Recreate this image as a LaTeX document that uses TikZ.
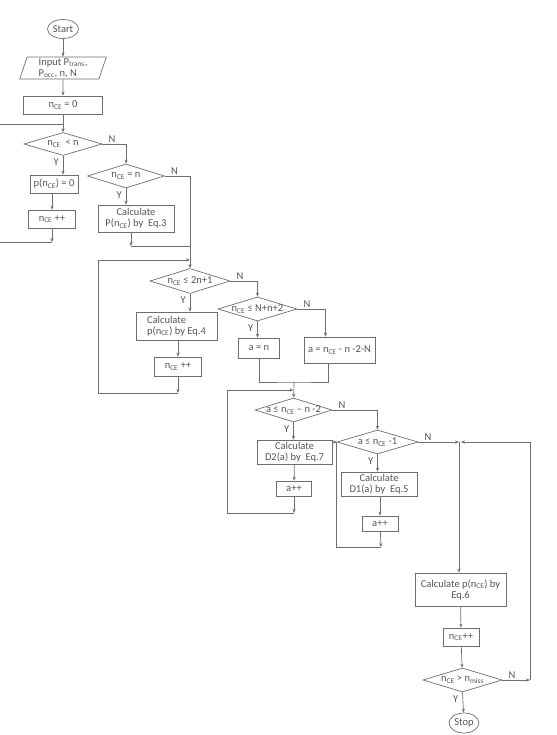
\documentclass[tikz,border=0pt]{standalone}
\usepackage{fontspec}
\setmainfont{Carlito}
\usetikzlibrary{shapes.geometric,arrows.meta}
\definecolor{ln}{RGB}{110,110,110}
\definecolor{tx}{RGB}{85,85,85}
\newcommand{\nce}{n\textsubscript{CE}}
\newcommand{\tight}[1]{\makebox[0pt]{#1}}

\begin{document}
\begin{tikzpicture}[x=1pt,y=-1pt,color=ln,line width=0.7pt,
 >={Stealth[length=4pt,width=3.2pt]},
 every node/.style={text=tx,font=\fontsize{10.5}{11}\selectfont},
 box/.style={draw=ln,rectangle,inner sep=1pt},
 dec/.style={draw=ln,diamond,inner sep=0pt},
 term/.style={draw=ln,ellipse,inner sep=0pt},
 io/.style={draw=ln,trapezium,trapezium left angle=76,trapezium right angle=104,
   trapezium stretches=true,inner sep=0.5pt},
 yes/.style={at start,anchor=north east,inner sep=1pt,xshift=-3pt,yshift=-2pt},
 no/.style={at start,anchor=south west,inner sep=1pt,xshift=5pt}]
 \path[use as bounding box] (0,0) rectangle (556,735);
 \clip (0,0) rectangle (556,735);

 % first column
 \node[term,minimum width=31,minimum height=19] (start) at (63,29) {Start};
 \node[io,minimum width=87,minimum height=22,align=left] (in) at (63,68)
   {Input P\textsubscript{trans},\\P\textsubscript{occ}, n, N};
 \node[box,minimum width=79,minimum height=18] (z0) at (63,105) {\nce{} = 0};
 \node[dec,minimum width=78,minimum height=23] (d1) at (63,144) {\tight{\nce{}\ \ < n}};
 \node[box,minimum width=48,minimum height=18] (p0) at (54,184) {p(\nce) = 0};
 \node[box,minimum width=47,minimum height=18] (i1) at (52,219) {\nce{} ++};
 \node[dec,minimum width=77,minimum height=24] (d2) at (126,176) {\tight{\nce{} = n}};
 \node[box,minimum width=76,minimum height=27,align=center] (c3) at (136,218.5)
   {Calculate\\P(\nce) by\ \ Eq.3};

 % second block
 \node[dec,minimum width=80,minimum height=25] (d3) at (190,281) {\tight{\nce{} ≤ 2n+1}};
 \node[box,minimum width=81,minimum height=28,align=left] (c4) at (176.5,326)
   {Calculate\\p(\nce) by Eq.4};
 \node[box,minimum width=47,minimum height=19] (i2) at (178,366.5) {\nce{} ++};
 \node[dec,minimum width=79,minimum height=24] (d4) at (257.5,309) {\tight{\nce{} ≤ N+n+2}};
 \node[box,minimum width=41,minimum height=20] (a1) at (259,348) {a = n};
 \node[box,minimum width=71,minimum height=26] (a2) at (339.5,350) {a = \nce{} - n -2-N};

 % third block
 \node[dec,minimum width=77,minimum height=24] (d5) at (293.5,410) {\tight{a ≤ \nce{} – n -2}};
 \node[box,minimum width=75,minimum height=24,align=center] (c7) at (294.5,452)
   {Calculate\\D2(a) by\ \ Eq.7};
 \node[box,minimum width=35,minimum height=15] (i3) at (294,488.5) {a++};
 \node[dec,minimum width=81,minimum height=24] (d6) at (377.5,442) {\tight{a ≤ \nce{} -1}};
 \node[box,minimum width=76,minimum height=24,align=center] (c5) at (379,484)
   {Calculate\\D1(a) by\ \ Eq.5};
 \node[box,minimum width=36,minimum height=15] (i4) at (380,523.5) {a++};

 % last column
 \node[box,minimum width=91,minimum height=33,align=center] (c6) at (460.5,589.5)
   {Calculate p(\nce) by\\Eq.6};
 \node[box,minimum width=36,minimum height=18] (i5) at (461,637) {\nce++};
 \node[dec,minimum width=79,minimum height=24] (d7) at (462.5,680)
   {\tight{\nce{} > n\textsubscript{miss}}};
 \node[term,minimum width=30,minimum height=20] (stop) at (464,723) {Stop};

 \coordinate (j0) at (63,124);
 \coordinate (j1) at (52,242);
 \coordinate (l1) at (-5,242);
 \coordinate (l0) at (-5,124);
 \coordinate (j2) at (131,246);
 \coordinate (j3) at (178,393);
 \coordinate (l3) at (98,393);
 \coordinate (k3) at (98,260);
 \coordinate (j4) at (294,382);
 \coordinate (j5) at (294,513);
 \coordinate (l5) at (227,513);
 \coordinate (k5) at (227,390);
 \coordinate (j6) at (381,547);
 \coordinate (l6) at (336,547);
 \coordinate (m) at (459,442);
 \coordinate (r7) at (530,680);

 \draw[->] (start) -- (in);
 \draw[->] (in) -- (z0);
 \draw[->] (z0) -- (d1);
 \draw[->] (d1.south) -- node[yes]{Y} (d1.south |- p0.north);
 \draw[->] (i1.north |- p0.south) -- (i1);
 \draw[->] (i1) -- (j1);
 \draw (j1) -- (l1) -- (l0) -- (j0);
 \draw[->] (d1.east) -| node[no]{N} (d2.north);
 \draw[->] (d2.south) -- node[yes]{Y} (d2.south |- c3.north);
 \draw[->] (j2 |- c3.south) -- (j2);
 \draw (j2) -- (j2 -| d3.north);
 \draw[->] (d2.east) -| node[no]{N} (d3.north);

 \draw[->] (d3.south) -- node[yes]{Y} (d3.south |- c4.north);
 \draw[->] (i2.north |- c4.south) -- (i2);
 \draw[->] (i2) -- (j3);
 \draw[->] (j3) -- (l3) -- (k3) -- (k3 -| d3.north);
 \draw[->] (d3.east) -| node[no]{N} (d4.north);
 \draw[->] (d4.south) -- node[yes]{Y} (d4.south |- a1.north);
 \draw[->] (d4.east) -| node[no]{N} ([xshift=-14pt]a2.north);
 \draw (a1.south) |- (j4) -| ([xshift=-11pt]a2.south);
 \draw[->] (j4) -- (d5);

 \draw[->] (d5.south) -- node[yes]{Y} (d5.south |- c7.north);
 \draw[->] (c7) -- (i3);
 \draw[->] (i3) -- (j5);
 \draw[->] (j5) -- (l5) -- (k5) -- (k5 -| d5.north);
 \draw[->] (d5.east) -| node[no]{N} (d6.north);
 \draw[->] (d6.south) -- node[yes]{Y} (d6.south |- c5.north);
 \draw[->] (c5.south -| i4) -- (i4);
 \draw[->] (i4) -- (j6);
 \draw[->] (j6) -- (l6) |- (d6.west);
 \draw[->] (d6.east) -- node[no]{N} (m);

 \draw[->] (m) -- (m |- c6.north);
 \draw[->] (c6) -- (i5);
 \draw[->] (i5) -- (d7);
 \draw[->] (d7.south) -- node[yes]{Y} (stop);
 \draw[->] (d7.east) -- node[no]{N} (r7);
 \draw[->] (r7) |- ([xshift=2pt]m);
\end{tikzpicture}
\end{document}
